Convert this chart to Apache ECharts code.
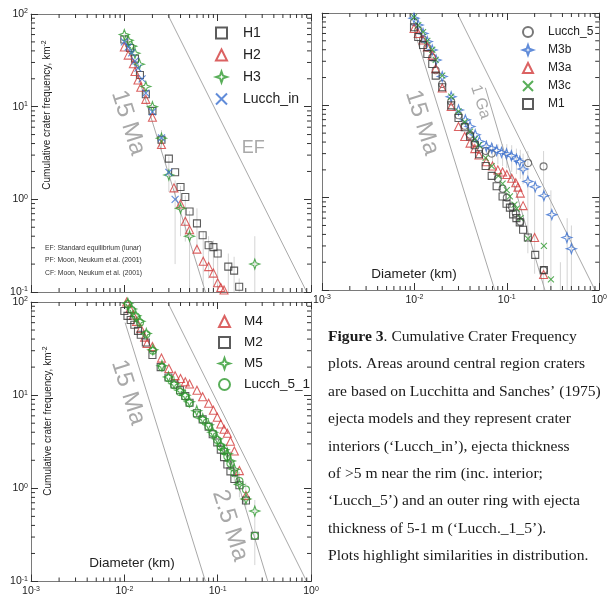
<!DOCTYPE html>
<html>
<head>
<meta charset="utf-8">
<script src="https://cdn.jsdelivr.net/npm/echarts@6/dist/echarts.min.js"></script>
<style>
html, body { margin: 0; padding: 0; background: #fff; }
#chart { width: 610px; height: 597px; }
</style>
</head>
<body>
<div id="chart"></div>
<script>
// ---- panel 1 (top left) ----
const h1 = [[0.01,53],[0.0115,43],[0.013,33],[0.0147,22],[0.017,13.6],[0.02,9.0],[0.025,4.4],[0.03,2.75],[0.035,1.96],[0.04,1.36],[0.045,1.06],[0.05,0.74],[0.06,0.55],[0.069,0.41],[0.08,0.32],[0.09,0.305],[0.1,0.26],[0.13,0.188],[0.15,0.17],[0.17,0.114]];
const h2 = [[0.01,44],[0.011,36],[0.0125,29],[0.013,24],[0.014,19.4],[0.015,16.2],[0.017,12],[0.02,7.7],[0.025,3.9],[0.034,1.33],[0.04,0.89],[0.045,0.58],[0.05,0.47],[0.06,0.29],[0.07,0.215],[0.08,0.188],[0.09,0.16],[0.1,0.126],[0.108,0.112],[0.117,0.105]];
const h3 = [[0.01,60],[0.011,52],[0.012,45],[0.013,37.7],[0.0145,28.7],[0.017,16.5],[0.02,10],[0.025,4.57],[0.03,1.83],[0.04,0.8],[0.05,0.4],[0.25,0.2]];
const lucchIn = [[0.01,50],[0.011,44],[0.012,38],[0.013,31],[0.014,26],[0.0155,20],[0.017,14],[0.02,8.8],[0.025,4.6],[0.03,1.95],[0.035,1.0]];
const err1 = [[0.025,3.4,5.6],[0.03,1.2,2.9],[0.035,0.2,1.6],[0.04,0.4,1.4],[0.045,0.35,1.1],[0.05,0.1,0.75],[0.06,0.28,0.8],[0.07,0.12,0.45],[0.08,0.14,0.4],[0.09,0.1,0.36],[0.1,0.1,0.3],[0.13,0.1,0.26],[0.15,0.1,0.24],[0.17,0.1,0.14],[0.25,0.1,0.4]];

// ---- panel 2 (top right) ----
const lucch5 = [[0.0099,80],[0.011,65],[0.0124,52],[0.0138,42],[0.0156,33],[0.017,24],[0.02,17],[0.025,11],[0.03,7.8],[0.035,6],[0.04,4.8],[0.045,3.9],[0.05,3.3],[0.059,3.2],[0.0686,3.0],[0.08,1.6],[0.09,1.25],[0.1,1.0],[0.113,0.8],[0.125,0.68],[0.14,0.55],[0.17,2.37],[0.25,2.18],[0.25,0.164]];
const m3b = [[0.0099,88],[0.011,74],[0.0124,60],[0.0138,49],[0.0156,39.8],[0.0172,30.9],[0.02,20.5],[0.025,12.4],[0.03,8.9],[0.0356,6.97],[0.04,5.9],[0.0455,4.8],[0.0506,4.06],[0.06,3.6],[0.0686,3.44],[0.0776,3.24],[0.0877,3.09],[0.0993,2.99],[0.112,2.85],[0.127,2.62],[0.138,2.47],[0.15,2.04],[0.169,1.5],[0.203,1.31],[0.252,1.05],[0.307,0.655],[0.447,0.37],[0.5,0.28]];
const m3a = [[0.0099,68],[0.011,60],[0.0124,51],[0.0138,43],[0.0156,35],[0.017,25],[0.02,15.4],[0.025,9.7],[0.03,5.9],[0.035,4.6],[0.04,3.9],[0.045,3.4],[0.05,2.9],[0.06,2.45],[0.07,2.2],[0.08,2.0],[0.09,1.9],[0.1,1.78],[0.113,1.62],[0.125,1.45],[0.132,1.3],[0.14,1.12],[0.15,0.82],[0.2,0.37],[0.25,0.147]];
const m3c = [[0.0099,90],[0.011,74],[0.0124,62],[0.0138,50],[0.0156,40],[0.017,31],[0.02,21],[0.025,12.4],[0.03,8.6],[0.035,6.6],[0.04,5.2],[0.045,4.3],[0.05,3.7],[0.059,2.7],[0.0686,2.2],[0.081,1.72],[0.09,1.42],[0.1,1.21],[0.108,1.03],[0.121,0.84],[0.128,0.76],[0.141,0.6],[0.169,0.36],[0.252,0.3],[0.3,0.13]];
const m1 = [[0.0099,70],[0.011,55],[0.0124,45],[0.0138,36],[0.0156,28],[0.017,21],[0.02,15.7],[0.025,10],[0.03,7.3],[0.035,5.8],[0.04,4.6],[0.045,3.7],[0.05,2.95],[0.059,2.2],[0.0686,1.72],[0.0776,1.33],[0.09,1.03],[0.0993,0.86],[0.108,0.78],[0.117,0.66],[0.127,0.6],[0.138,0.54],[0.15,0.45],[0.169,0.37],[0.203,0.24],[0.252,0.164]];
const err2 = [[0.06,2.5,4.2],[0.07,2.4,3.9],[0.08,2.3,3.8],[0.09,2.2,3.8],[0.1,2.1,3.8],[0.113,1.9,3.7],[0.127,1.8,3.4],[0.14,1.6,3.3],[0.15,1.4,3.0],[0.169,0.25,3.2],[0.2,0.15,1.5],[0.25,0.1,3.2],[0.3,0.1,1.2],[0.38,0.1,0.2],[0.45,0.1,0.6],[0.5,0.1,0.5]];

// ---- panel 3 (bottom left) ----
const m4 = [[0.0106,100],[0.0115,85],[0.0125,72],[0.0135,62],[0.015,52],[0.0165,42],[0.0175,36],[0.02,33.3],[0.025,25],[0.03,19.3],[0.035,16.2],[0.04,15.1],[0.045,13.9],[0.05,13.2],[0.06,11.3],[0.069,9.6],[0.08,8.2],[0.09,6.9],[0.099,5.8],[0.108,4.9],[0.117,4.3],[0.127,3.9],[0.137,3.2],[0.151,2.52],[0.171,1.55],[0.201,0.84]];
const m2 = [[0.01,80],[0.0108,71],[0.0117,64],[0.0128,57],[0.014,49],[0.015,44.5],[0.017,36.8],[0.02,27],[0.0245,20],[0.0297,15.5],[0.0345,13],[0.0395,11.3],[0.045,9.8],[0.05,8.3],[0.06,6.4],[0.069,5.5],[0.08,4.6],[0.0885,3.8],[0.099,3.1],[0.108,2.6],[0.117,2.16],[0.127,1.8],[0.137,1.52],[0.151,1.26],[0.171,1.08],[0.201,0.74],[0.25,0.31]];
const m5 = [[0.0109,97],[0.012,84],[0.0133,71],[0.0147,62],[0.0172,46],[0.0202,30.7],[0.0253,20.7],[0.0297,15.7],[0.0341,13.3],[0.0395,11.3],[0.0448,10],[0.0498,8.5],[0.0597,6.8],[0.0692,5.6],[0.0795,4.8],[0.0885,4.0],[0.099,3.4],[0.108,2.9],[0.117,2.6],[0.127,2.35],[0.137,1.97],[0.151,1.6],[0.171,1.1],[0.201,0.77],[0.25,0.57]];
const lucch51 = [[0.0109,95],[0.012,82],[0.0133,70],[0.0147,60],[0.0172,45],[0.0202,30],[0.0253,20],[0.0297,15.2],[0.0341,12.8],[0.0395,10.8],[0.0448,9.6],[0.0498,8.2],[0.0597,6.2],[0.0692,5.4],[0.0795,4.6],[0.0885,3.9],[0.099,3.3],[0.108,2.8],[0.117,2.5],[0.127,2.2],[0.137,1.85],[0.151,1.45],[0.171,1.2],[0.201,0.97],[0.25,0.31]];
const err3 = [[0.127,1.9,2.7],[0.137,1.6,2.5],[0.151,1.1,1.8],[0.171,0.8,1.5],[0.2,0.6,1.15],[0.25,0.15,0.75]];

// reference lines (isochrons / equilibrium)
const line15Ma = [[0.0102,60],[0.074,0.1]];
const lineEF = [[0.029,100],[0.9,0.1]];
const line1Ga = [[0.0586,15.5],[0.258,0.1]];
const line25Ma = [[0.123,3],[0.345,0.1]];

const FONT = 'Liberation Sans, Arial, sans-serif';
const SERIF = 'Liberation Serif, Times New Roman, serif';

const STAR = 'path://M0,-10L2.6,-2.6L10,0L2.6,2.6L0,10L-2.6,2.6L-10,0L-2.6,-2.6Z';
const CROSS = 'path://M0,0L10,10M10,0L0,10';

const RED = '#d23b3b', BLACK = '#333333', GREEN = '#2f9a2f', BLUE = '#3a6fd0', GREYC = '#555555';
const TICK = '#333333';

let grids = [
    {left: 31, top: 14, width: 280, height: 278},
    {left: 322, top: 13, width: 280, height: 277},
    {left: 31, top: 302, width: 280, height: 281}
];

function powLabel(v) {
    let e = Math.round(Math.log10(v));
    return '{b|10}{s|' + e + '}';
}

let labelRich = {
    b: {fontSize: 10.5, fontFamily: FONT, color: '#222'},
    s: {fontSize: 7, fontFamily: FONT, color: '#222', verticalAlign: 'top', padding: [0, 0, 5, 0]}
};

function makeAxis(dim, g, pos, showLabel) {
    let isX = dim === 'x';
    return {
        type: 'log', logBase: 10, gridIndex: g, position: pos,
        min: isX ? 0.001 : 0.1, max: isX ? 1 : 100,
        axisLine: {show: true, onZero: false, lineStyle: {color: '#7a7a7a', width: 1}},
        axisTick: {show: true, inside: true, length: 7, lineStyle: {color: TICK}},
        minorTick: {show: false},
        splitLine: {show: false},
        axisLabel: {show: showLabel, formatter: powLabel, rich: labelRich, margin: isX ? 4 : 3}
    };
}

let xAxes = [], yAxes = [];
for (let g = 0; g < 3; g++) {
    xAxes.push(makeAxis('x', g, 'bottom', g !== 0));
    yAxes.push(makeAxis('y', g, 'left', g !== 1));
}
for (let g = 0; g < 3; g++) {
    xAxes.push(makeAxis('x', g, 'top', false));
    yAxes.push(makeAxis('y', g, 'right', false));
}

// log-spaced minor tick positions (2..9 x 10^k)
function minorVals(k0, k1) {
    let out = [];
    for (let k = k0; k < k1; k++) {
        for (let m = 2; m <= 9; m++) out.push(m * Math.pow(10, k));
    }
    return out;
}
const xMinor = minorVals(-3, 0);
const yMinor = minorVals(-1, 2);

function tickSeries(g, isX) {
    let vals = isX ? xMinor.map(v => [v, 1]) : yMinor.map(v => [0.01, v]);
    return {
        type: 'custom', xAxisIndex: g, yAxisIndex: g, data: vals, silent: true, z: 5,
        clip: false,
        encode: {x: 0, y: 1},
        renderItem: function (params, api) {
            let v = isX ? api.value(0) : api.value(1);
            let a, b, len = 4;
            let st = {stroke: TICK, lineWidth: 1};
            if (isX) {
                a = api.coord([v, 0.1]);
                b = api.coord([v, 100]);
                return {type: 'group', children: [
                    {type: 'line', shape: {x1: a[0], y1: a[1], x2: a[0], y2: a[1] - len}, style: st},
                    {type: 'line', shape: {x1: b[0], y1: b[1], x2: b[0], y2: b[1] + len}, style: st}
                ]};
            }
            a = api.coord([0.001, v]);
            b = api.coord([1, v]);
            return {type: 'group', children: [
                {type: 'line', shape: {x1: a[0], y1: a[1], x2: a[0] + len, y2: a[1]}, style: st},
                {type: 'line', shape: {x1: b[0], y1: b[1], x2: b[0] - len, y2: b[1]}, style: st}
            ]};
        }
    };
}

function pts(name, data, g, symbol, color, size) {
    return {
        name: name, type: 'scatter', xAxisIndex: g, yAxisIndex: g,
        data: data, symbol: symbol, symbolSize: size, z: 4, silent: true,
        itemStyle: {color: 'rgba(255,255,255,0)', borderColor: color, borderWidth: 1.1}
    };
}

function refLine(data, g) {
    return {
        type: 'line', xAxisIndex: g, yAxisIndex: g, data: data, symbol: 'none',
        silent: true, z: 2, lineStyle: {color: '#a8a8a8', width: 1}
    };
}

function errBars(data, g) {
    return {
        type: 'custom', xAxisIndex: g, yAxisIndex: g, data: data, silent: true, z: 1,
        encode: {x: 0, y: [1, 2]},
        renderItem: function (params, api) {
            let a = api.coord([api.value(0), api.value(1)]);
            let b = api.coord([api.value(0), api.value(2)]);
            return {
                type: 'line',
                shape: {x1: a[0], y1: a[1], x2: b[0], y2: b[1]},
                style: {stroke: '#d4d4d4', lineWidth: 1}
            };
        }
    };
}

let series = [
    errBars(err1, 0), errBars(err2, 1), errBars(err3, 2),
    tickSeries(0, true), tickSeries(0, false),
    tickSeries(1, true), tickSeries(1, false),
    tickSeries(2, true), tickSeries(2, false),
    refLine(line15Ma, 0), refLine(lineEF, 0),
    refLine(line15Ma, 1), refLine(lineEF, 1), refLine(line1Ga, 1),
    refLine(line15Ma, 2), refLine(lineEF, 2), refLine(line25Ma, 2),
    pts('H1', h1, 0, 'rect', BLACK, 7),
    pts('H2', h2, 0, 'triangle', RED, 8),
    pts('H3', h3, 0, STAR, GREEN, 10),
    pts('Lucch_in', lucchIn, 0, CROSS, BLUE, 7),
    pts('Lucch_5', lucch5, 1, 'circle', GREYC, 7),
    pts('M3b', m3b, 1, STAR, BLUE, 10),
    pts('M3a', m3a, 1, 'triangle', RED, 8),
    pts('M3c', m3c, 1, CROSS, GREEN, 6),
    pts('M1', m1, 1, 'rect', BLACK, 7),
    pts('M4', m4, 2, 'triangle', RED, 8),
    pts('M2', m2, 2, 'rect', BLACK, 7),
    pts('M5', m5, 2, STAR, GREEN, 10),
    pts('Lucch_5_1', lucch51, 2, 'circle', GREEN, 7)
];

function legendBox(names, left, top, fontSize, lh, icon, pad) {
    return {
        data: names, orient: 'vertical', left: left, top: top, selectedMode: false,
        itemWidth: icon, itemHeight: icon, itemGap: 0, padding: 0,
        textStyle: {fontSize: fontSize, lineHeight: lh, fontFamily: FONT, color: '#222', padding: [0, 0, 0, pad]}
    };
}

let option = {
    animation: false,
    backgroundColor: '#fff',
    textStyle: {fontFamily: FONT},
    grid: grids,
    xAxis: xAxes,
    yAxis: yAxes,
    legend: [
        legendBox(['H1', 'H2', 'H3', 'Lucch_in'], 215, 22, 14, 22, 11, 11),
        legendBox(['Lucch_5', 'M3b', 'M3a', 'M3c', 'M1'], 522, 23, 12, 18, 10, 10),
        legendBox(['M4', 'M2', 'M5', 'Lucch_5_1'], 218, 311, 13.5, 21, 11, 9)
    ],
    series: series
};

let chart = echarts.init(document.getElementById('chart'));
chart.setOption(option);

// text annotations placed at data coordinates
function at(g, xy) {
    return chart.convertToPixel({xAxisIndex: g, yAxisIndex: g}, xy);
}

let tilt = -72.5 * Math.PI / 180;
let notes = [
    {g: 0, xy: [0.011, 6.7], text: '15 Ma', size: 24, rot: tilt},
    {g: 0, xy: [0.24, 3.6], text: 'EF', size: 18, rot: 0},
    {g: 1, xy: [0.0121, 6.5], text: '15 Ma', size: 24, rot: tilt},
    {g: 1, xy: [0.0519, 10.9], text: '1 Ga', size: 16, rot: tilt},
    {g: 2, xy: [0.011, 10.7], text: '15 Ma', size: 24, rot: tilt},
    {g: 2, xy: [0.136, 0.4], text: '2.5 Ma', size: 24, rot: tilt}
];

let graphics = [];
notes.forEach(function (n) {
    let p = at(n.g, n.xy);
    graphics.push({
        type: 'text', x: p[0], y: p[1], rotation: n.rot, silent: true, z: 3,
        style: {text: n.text, fontSize: n.size, fontFamily: FONT, fill: '#a9a9a9', align: 'center', verticalAlign: 'middle'}
    });
});

// y axis titles inside the plots
let supRich = {
    s: {fontSize: 7, fontFamily: FONT, fill: '#222', verticalAlign: 'top', padding: [0, 0, 5, 0]}
};
[[47, 115], [48, 421]].forEach(function (c) {
    graphics.push({
        type: 'text', x: c[0], y: c[1], rotation: Math.PI / 2, silent: true,
        style: {text: 'Cumulative crater frequency, km{s|-2}', rich: supRich, fontSize: 10, fontFamily: FONT, fill: '#222', align: 'center', verticalAlign: 'middle'}
    });
});

// x axis titles inside the plots
[[414, 274], [132, 563]].forEach(function (c) {
    graphics.push({
        type: 'text', x: c[0], y: c[1], silent: true,
        style: {text: 'Diameter (km)', fontSize: 13.5, fontFamily: FONT, fill: '#222', align: 'center', verticalAlign: 'middle'}
    });
});

// source notes in panel 1
const refNotes = ['EF: Standard equilibrium (lunar)', 'PF: Moon, Neukum et al. (2001)', 'CF: Moon, Neukum et al. (2001)'];
refNotes.forEach(function (t, i) {
    graphics.push({
        type: 'text', x: 45, y: 248 + i * 12.5, silent: true,
        style: {text: t, fontSize: 6.8, fontFamily: FONT, fill: '#333', align: 'left', verticalAlign: 'middle'}
    });
});

// figure caption
const captionLines = [
    '{b|Figure 3}. Cumulative Crater Frequency',
    'plots. Areas around central region craters',
    'are based on Lucchitta and Sanches\u2019 (1975)',
    'ejecta models and they represent crater',
    'interiors (\u2018Lucch_in\u2019), ejecta thickness',
    'of >5 m near the rim (inc. interior;',
    '\u2018Lucch_5\u2019) and an outer ring with ejecta',
    'thickness of 5-1 m (\u2018Lucch._1_5\u2019).',
    'Plots highlight similarities in distribution.'
];
captionLines.forEach(function (t, i) {
    graphics.push({
        type: 'text', x: 328, y: 337 + i * 27.4, silent: true,
        style: {
            text: t, fontSize: 15.6, fontFamily: SERIF, fill: '#1a1a1a', align: 'left', verticalAlign: 'middle',
            rich: {b: {fontSize: 15.6, fontFamily: SERIF, fontWeight: 'bold', fill: '#1a1a1a'}}
        }
    });
});

chart.setOption({graphic: graphics});
</script>
</body>
</html>
